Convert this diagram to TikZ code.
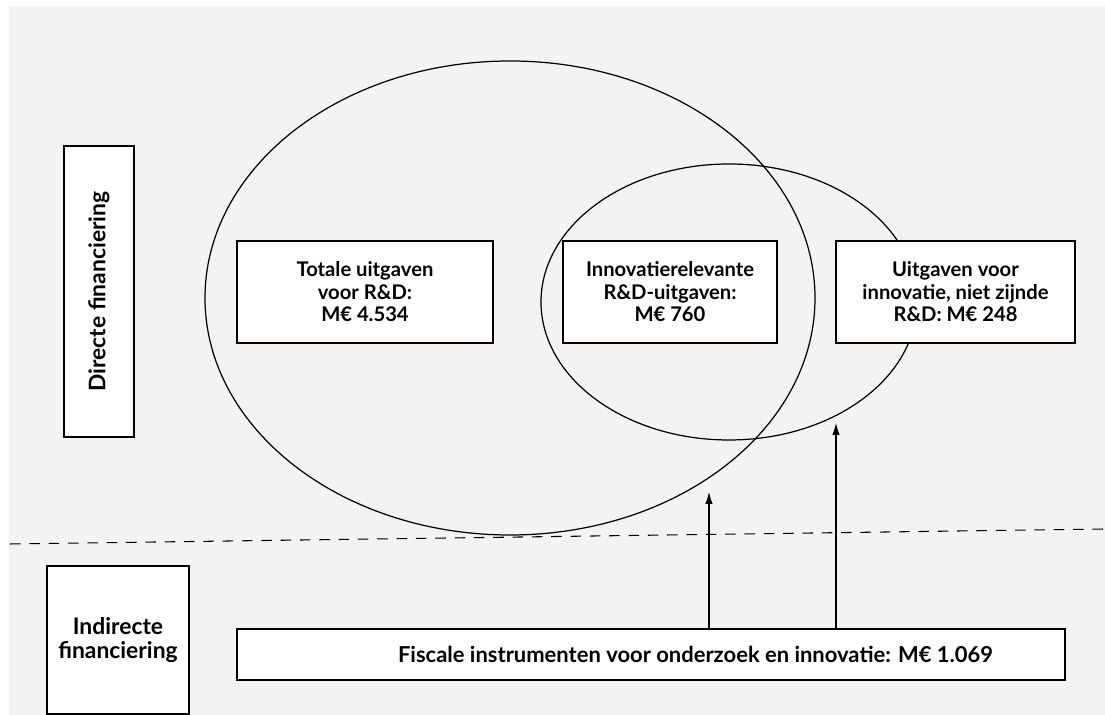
\documentclass[tikz,border=0pt]{standalone}
\usepackage{fontspec}
\setmainfont{Lato}
\usepackage{tikz}
\usetikzlibrary{arrows.meta}

\definecolor{bggray}{HTML}{F4F3F1}

\tikzset{
    box/.style={draw, fill=white, line width=0.6pt, align=center, font=\bfseries\fontsize{11.5}{12.8}\selectfont},
    side/.style={font=\bfseries\fontsize{13}{13.5}\selectfont},
    ring/.style={draw, line width=0.7pt},
}

\begin{document}
\begin{tikzpicture}[>={Latex[length=2.4mm, width=1.5mm]}]

    % Background
    \useasboundingbox (0, 0) rectangle (22.1, 14.3);
    \fill[bggray] (0.18, 0) rectangle (22.1, 14.18);

    % Draw Ellipses
    \draw[ring] (10.2, 8.34) ellipse (6.1 and 4.74);
    \draw[ring] (14.58, 8.26) ellipse (3.76 and 2.76);

    % Split line
    \coordinate (dashL) at (0.2, 3.42);
    \coordinate (dashR) at (22.1, 3.72);
    \draw[dashed, line width=0.6pt, dash pattern=on 6pt off 5pt] (dashL) -- (dashR);

    % Side labels
    \node[box, minimum width=1.4cm, minimum height=5.82cm] (direct) at (1.98, 8.47) {};
    \node[side, rotate=90] at (direct) {Directe financiering};
    \node[box, side, minimum width=2.84cm, minimum height=2.96cm] (indirect) at (2.36, 1.5) {Indirecte\\financiering};

    % Spending boxes
    \node[box, minimum width=5.12cm, minimum height=2.04cm] (total) at (7.3, 8.46) {Totale uitgaven\\voor R\&D:\\M€ 4.534};
    \node[box, minimum width=4.28cm, minimum height=2.04cm] (innov) at (13.4, 8.46) {Innovatierelevante\\R\&D-uitgaven:\\M€ 760};
    \node[box, minimum width=4.78cm, minimum height=2.04cm] (other) at (19.11, 8.46) {Uitgaven voor\\innovatie, niet zijnde\\R\&D: M€ 248};

    % Fiscal instruments
    \node[box, minimum width=16.56cm, minimum height=1.02cm] (fiscal) at (13.02, 1.21) {};
    \node[font=\bfseries\fontsize{12.5}{14}\selectfont] at ([xshift=0.89cm]fiscal.center) {Fiscale instrumenten voor onderzoek en innovatie: M€ 1.069};

    % Arrows
    \coordinate (tipA) at (14.18, 4.46);
    \coordinate (tipB) at (16.72, 5.84);
    \draw[->, line width=0.6pt] (fiscal.north -| tipA) -- (tipA);
    \draw[->, line width=0.6pt] (fiscal.north -| tipB) -- (tipB);
\end{tikzpicture}
\end{document}
